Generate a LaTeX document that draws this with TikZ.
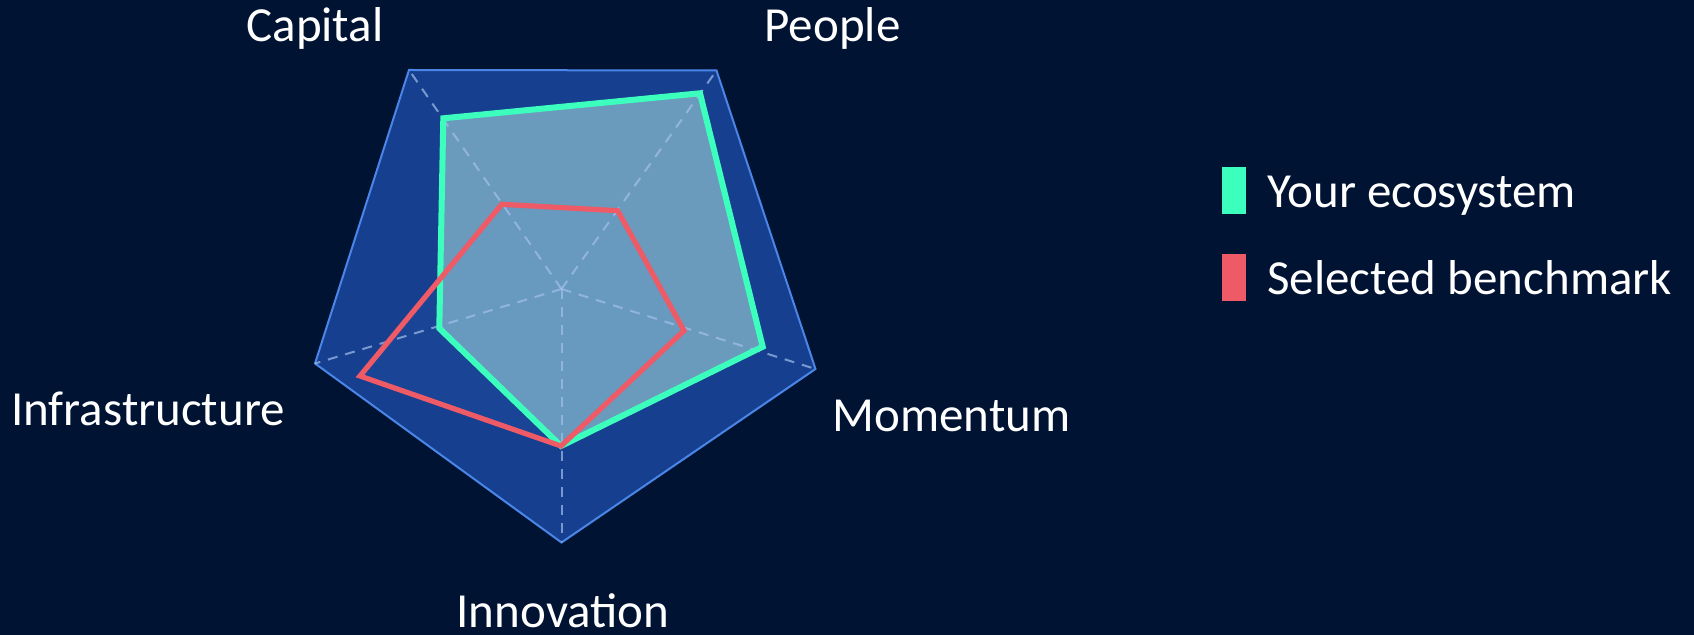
\documentclass[tikz,border=0pt]{standalone}
\usepackage{fontspec}
\setmainfont{Carlito}
\definecolor{navybg}{HTML}{011333}
\definecolor{gridblue}{HTML}{163F8F}
\definecolor{gridedge}{HTML}{4A86E8}
\definecolor{spokeblue}{HTML}{A3C0EC}
\definecolor{ecogreen}{HTML}{3CFFBE}
\definecolor{ecofill}{HTML}{6B9BBC}
\definecolor{benchred}{HTML}{EE5A65}
\begin{document}
\begin{tikzpicture}[x=0.5pt,y=-0.5pt,line join=miter,
    spoke/.style={spokeblue,opacity=.7,line width=1pt,dash pattern=on 5pt off 4pt},
    ecoline/.style={ecogreen,line width=3pt},
    benchline/.style={benchred,line width=2.6pt},
    axislabel/.style={text=white,inner sep=0pt,anchor=base,font=\fontsize{24.5}{29}\selectfont},
    legendtext/.style={axislabel,anchor=base west}]
    \fill[navybg](0,0)rectangle(1694,635);
    \useasboundingbox(0,0)rectangle(1694,635);
    % axes of the pentagon
    \coordinate (ctr) at (561.5,289);
    \coordinate (cap) at (409,70);
    \coordinate (peo) at (716.5,70.5);
    \coordinate (mom) at (815.5,369);
    \coordinate (inn) at (561.5,542.5);
    \coordinate (inf) at (315,363.5);
    \filldraw[fill=gridblue,draw=gridedge,line width=1pt]
        (cap)--(peo)--(mom)--(inn)--(inf)--cycle;
    % data points
    \coordinate (g1) at (443.3,118.3);
    \coordinate (g2) at (700,93.3);
    \coordinate (g3) at (762.7,346.7);
    \coordinate (g4) at (561,446);
    \coordinate (g5) at (439.3,328.3);
    \coordinate (b1) at (501.7,204.3);
    \coordinate (b2) at (617.7,210.7);
    \coordinate (b3) at (684,330.7);
    \coordinate (b4) at (561,446);
    \coordinate (b5) at (360,376);
    \fill[ecofill](g1)--(g2)--(g3)--(g4)--(g5)--cycle;
    \fill[gridedge,opacity=.08](b1)--(b2)--(b3)--(b4)--(b5)--cycle;
    \foreach \v in {cap,peo,mom,inn,inf}
        \draw[spoke](ctr)--(\v);
    \draw[ecoline](g1)--(g2)--(g3)--(g4)--(g5)--cycle;
    \draw[benchline](b1)--(b2)--(b3)--(b4)--(b5)--cycle;
    % labels
    \node[axislabel] (lcap) at (315,41.7) {Capital};
    \node[axislabel] (lpeo) at (832.5,41.7) {People};
    \node[axislabel] (lmom) at (951.5,431.7) {Momentum};
    \node[axislabel] (linn) at (563,628) {Innovation};
    \node[axislabel] (linf) at (148,426) {Infrastructure};
    % legend
    \fill[ecogreen](1222,167)rectangle(1246,214);
    \fill[benchred](1222,254)rectangle(1246,301);
    \node[legendtext] (leco) at (1267,208) {Your ecosystem};
    \node[legendtext] (lbench) at (1267,295) {Selected benchmark};
\end{tikzpicture}
\end{document}
